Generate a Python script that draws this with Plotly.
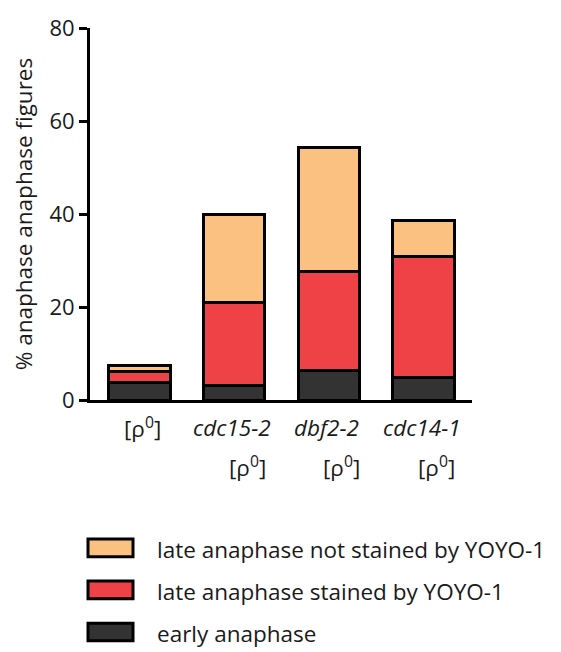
import plotly.graph_objects as go

# Strains (x categories) and their stacked percentages
strains = ["[ρ<sup>0</sup>]", "cdc15-2", "dbf2-2", "cdc14-1"]
strain_suffix = ["", "[ρ<sup>0</sup>]", "[ρ<sup>0</sup>]", "[ρ<sup>0</sup>]"]
early_anaphase = [3.8, 3.2, 6.4, 4.8]
late_stained = [2.4, 17.7, 21.3, 26.1]
late_not_stained = [1.2, 18.9, 26.5, 7.6]

series_names = [
    "early anaphase",
    "late anaphase stained by YOYO-1",
    "late anaphase not stained by YOYO-1",
]
series_values = [early_anaphase, late_stained, late_not_stained]
series_colors = ["#333333", "#EE4247", "#FBC181"]

y_ticks = [0, 20, 40, 60, 80]

FONT = "Open Sans"
TEXT = "#1a1a1a"

xpos = list(range(len(strains)))

fig = go.Figure()
for name, vals, col in zip(series_names, series_values, series_colors):
    fig.add_trace(go.Bar(
        x=xpos, y=vals, name=name, width=0.65,
        marker=dict(color=col, line=dict(color="#000000", width=3)),
        showlegend=False,
    ))

# Category labels: strain name, with the rho-zero tag underneath for mutants
for i, (lab, suf) in enumerate(zip(strains, strain_suffix)):
    txt = lab if i == 0 else f"<i>{lab}</i>"
    fig.add_annotation(x=i, y=-0.075, xref="x", yref="paper", text=txt,
                       showarrow=False, font=dict(family=FONT, size=22.5, color=TEXT),
                       xanchor="center", yanchor="middle",
                       xshift=3 if i == 0 else -2)
    if suf:
        fig.add_annotation(x=i, y=-0.18, xref="x", yref="paper", text=suf,
                           showarrow=False, font=dict(family=FONT, size=22.5, color=TEXT),
                           xanchor="center", yanchor="middle", xshift=13)

# Legend drawn as boxes with labels, top item = top of stack
legend_rows = list(zip(series_names, series_colors))[::-1]
row_y = [551, 594, 637]
for (name, col), yc in zip(legend_rows, row_y):
    fig.add_shape(type="rect", xref="paper", yref="paper",
                  x0=(88 - 90) / 382, x1=(133 - 90) / 382,
                  y0=(400 - (yc - 9)) / 380, y1=(400 - (yc + 9)) / 380,
                  fillcolor=col, line=dict(color="#000000", width=3))
    fig.add_annotation(x=(155 - 90) / 382, y=(400 - yc - 2) / 380, xref="paper", yref="paper",
                       text=name, showarrow=False, xanchor="left", yanchor="middle",
                       font=dict(family=FONT, size=22.5, color=TEXT))

fig.update_layout(
    barmode="stack",
    width=561, height=652,
    margin=dict(l=90, r=89, t=20, b=252),
    plot_bgcolor="white", paper_bgcolor="white",
    font=dict(family=FONT, size=20, color=TEXT),
    xaxis=dict(range=[-0.52, 3.51], showticklabels=False, ticks="",
               showline=True, linecolor="#000000", linewidth=3,
               showgrid=False, zeroline=False, fixedrange=True),
    yaxis=dict(range=[0, 80], tickvals=y_ticks, ticks="outside", ticklen=8,
               tickwidth=3, tickcolor="#000000",
               showline=True, linecolor="#000000", linewidth=3,
               showgrid=False, zeroline=False,
               tickfont=dict(family=FONT, size=22, color=TEXT),
               title=dict(text="% anaphase anaphase figures", standoff=11,
                          font=dict(family=FONT, size=22.5, color=TEXT))),
)

fig.write_html("out.html")
